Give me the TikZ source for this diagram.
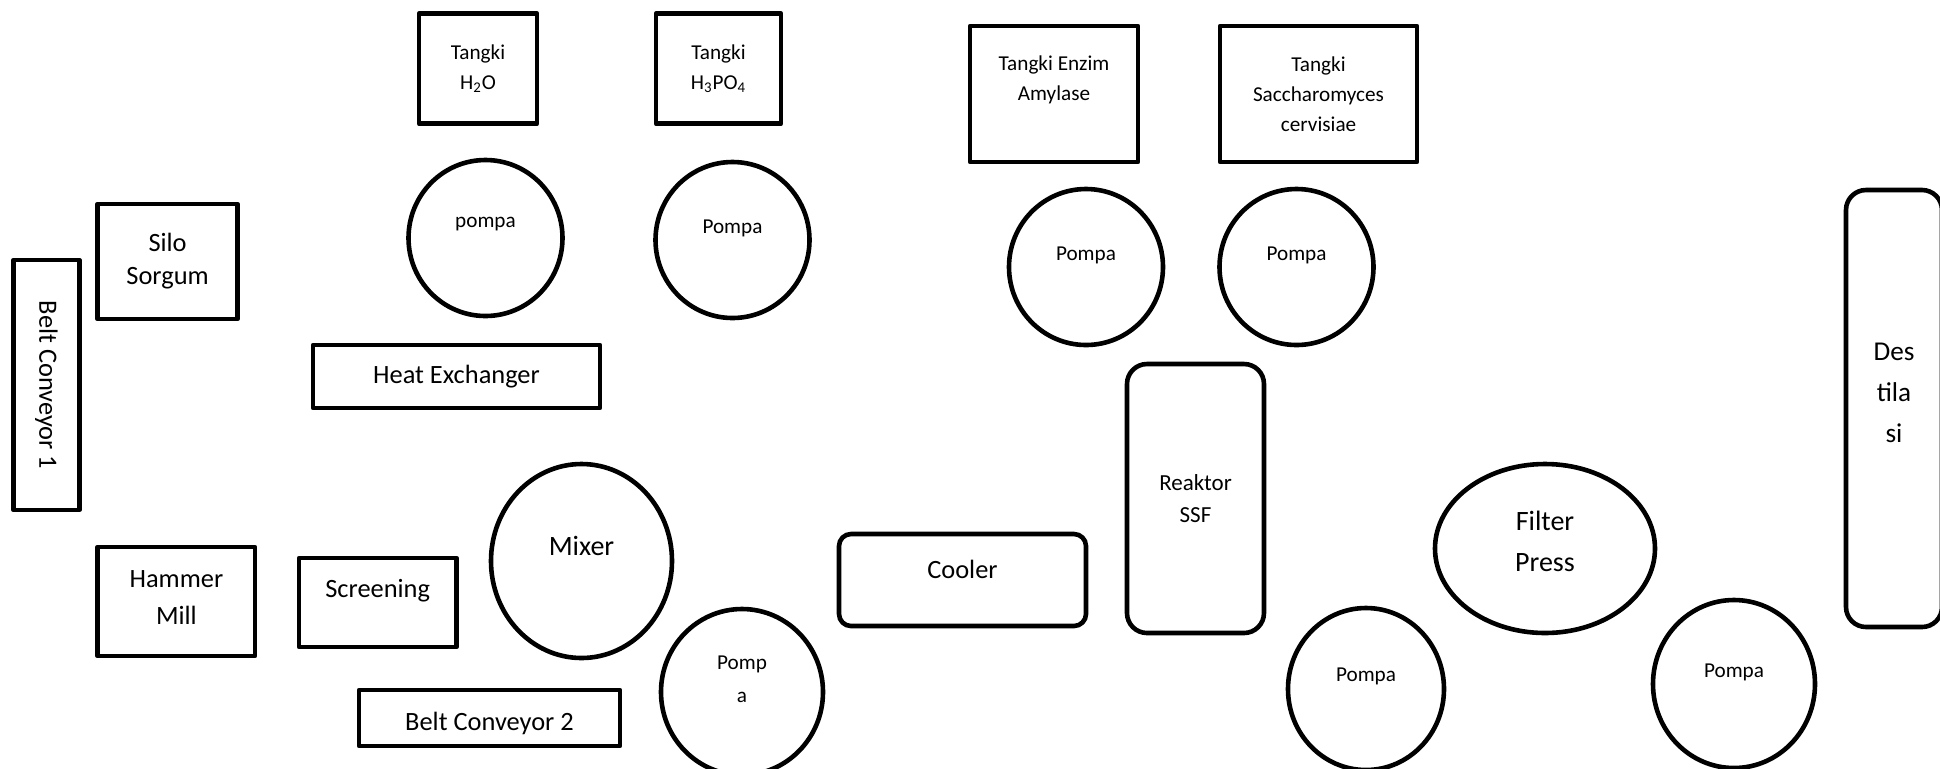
\documentclass[tikz,border=0pt]{standalone}
\usepackage{fontspec}
\setmainfont{Carlito}
\usetikzlibrary{shapes.geometric}

\begin{document}
\begin{tikzpicture}[x=0.5pt,y=-0.5pt,line width=2.3pt,line join=round,
		bigtext/.style={font=\fontsize{13.2}{18}\selectfont,align=center},
		hugetext/.style={font=\fontsize{14}{20.5}\selectfont,align=center},
		smalltext/.style={font=\fontsize{10.6}{15}\selectfont,align=center},
		box/.style={draw,rectangle,inner sep=0pt,bigtext},
		tank/.style={box,smalltext},
		vessel/.style={box,rounded corners=10pt},
		pump/.style={draw,ellipse,inner sep=0pt,minimum width=77pt,minimum height=78pt}]
	\clip (0,0) rectangle (1940,768);
	% bahan baku
	\node[box,rotate=-90,minimum width=125pt,minimum height=32.8pt] (bc1) at (46.4,385) {Belt Conveyor 1};
	\node[box,minimum width=69.9pt,minimum height=57.5pt,font=\fontsize{13.2}{16.5}\selectfont] (silo) at (167.6,261.5) {Silo\\Sorgum};
	\node[box,minimum width=78.7pt,minimum height=54.5pt,label={[font=\fontsize{13.2}{18.5}\selectfont,align=center,yshift=2pt]center:Hammer\\Mill}] (hm) at (176.4,601.5) {};
	\node[box,minimum width=78.75pt,minimum height=44.5pt,label={[bigtext,yshift=6pt]center:Screening}] (scr) at (377.7,602.5) {};
	\node[box,minimum width=130.5pt,minimum height=28pt,label={[bigtext,yshift=-2.5pt]center:Belt Conveyor 2}] (bc2) at (489.5,718) {};
	\node[box,minimum width=143.5pt,minimum height=31.5pt] (he) at (456.5,376.5) {Heat Exchanger};
	% tangki
	\node[tank,minimum width=59pt,minimum height=55pt] (tk1) at (478,68.7) {Tangki\\H\textsubscript{2}O};
	\node[tank,minimum width=62.5pt,minimum height=55pt] (tk2) at (718.5,68.7) {Tangki\\H\textsubscript{3}PO\textsubscript{4}};
	\node[tank,minimum width=84pt,minimum height=68pt,label={[smalltext,yshift=7pt]center:Tangki Enzim\\Amylase}] (tk3) at (1054,94) {};
	\node[tank,minimum width=98.5pt,minimum height=68pt] (tk4) at (1318.5,94) {Tangki\\Saccharomyces\\cervisiae};
	% pompa
	\node[pump,label={[smalltext,yshift=7pt]center:pompa}] (p1) at (485.5,238) {};
	\node[pump,label={[smalltext,yshift=6pt]center:Pompa}] (p2) at (732.5,240) {};
	\node[pump,label={[smalltext,yshift=6pt]center:Pompa}] (p3) at (1086,267) {};
	\node[pump,label={[smalltext,yshift=6pt]center:Pompa}] (p4) at (1296.5,267) {};
	\node[pump,minimum width=81pt,minimum height=83pt,label={[font=\fontsize{10.6}{16.5}\selectfont,align=center,yshift=6.5pt]center:Pomp\\a}] (p5) at (742,692) {};
	\node[pump,minimum width=78pt,minimum height=81pt,label={[smalltext,yshift=6.5pt]center:Pompa}] (p6) at (1366,689) {};
	\node[pump,minimum width=81pt,minimum height=84pt,label={[smalltext,yshift=6pt]center:Pompa}] (p7) at (1734,684) {};
	% proses
	\node[pump,minimum width=90.5pt,minimum height=97pt,label={[hugetext,yshift=7.5pt]center:Mixer}] (mix) at (581.5,561) {};
	\node[vessel,rounded corners=6pt,minimum width=123.5pt,minimum height=46pt,label={[bigtext,yshift=5.5pt]center:Cooler}] (cool) at (962.5,580) {};
	\node[vessel,minimum width=68.5pt,minimum height=134.5pt,font=\fontsize{11.5}{16}\selectfont] (ssf) at (1195.5,498.5) {Reaktor\\SSF};
	\node[pump,minimum width=110pt,minimum height=84.5pt,label={[hugetext,yshift=3.5pt]center:Filter\\Press}] (fp) at (1545,548.5) {};
	\node[vessel,minimum width=48pt,minimum height=218.5pt,label={[font=\fontsize{13.6}{20.5}\selectfont,align=center,yshift=7.75pt]center:Des\\tila\\si}] (des) at (1894,408.5) {};
\end{tikzpicture}
\end{document}
